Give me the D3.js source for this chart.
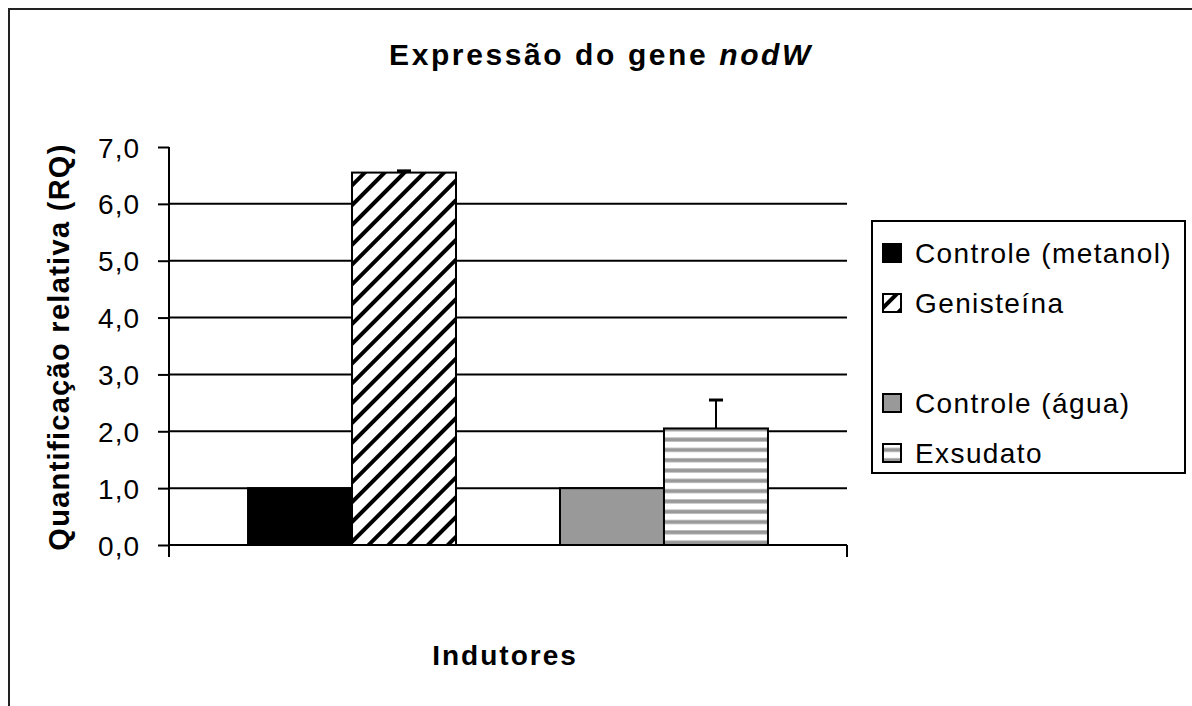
<!DOCTYPE html>
<html>
<head>
<meta charset="utf-8">
<script src="https://cdn.jsdelivr.net/npm/d3@7"></script>
<style>
  body { margin: 0; background: #fff; }
  text { font-family: "Liberation Sans", Arial, sans-serif; fill: #000; }
</style>
</head>
<body>
<svg id="chart" width="1192" height="706"></svg>
<script>
// data
var categories = [""];
var series = ["Controle (metanol)", "Genisteína", " ", "Controle (água)", "Exsudato"];
var values = [1.0, 6.55, null, 1.0, 2.05];
var errors = [0, 0.03, null, 0, 0.5];
var yTicks = [0, 1, 2, 3, 4, 5, 6, 7];
var fills = ["#000000", "url(#hatch)", "none", "#999999", "url(#stripes)"];

var svg = d3.select("#chart");

// outer frame (runs off the right and bottom of the window)
svg.append("rect")
  .attr("x", 9).attr("y", 9)
  .attr("width", 1200).attr("height", 720)
  .attr("fill", "none").attr("stroke", "#222").attr("stroke-width", 2);

var defs = svg.append("defs");
var hatch = defs.append("pattern")
  .attr("id", "hatch")
  .attr("patternUnits", "userSpaceOnUse")
  .attr("width", 14).attr("height", 14)
  .attr("patternTransform", "rotate(45)");
hatch.append("rect").attr("width", 14).attr("height", 14).attr("fill", "#fff");
hatch.append("rect").attr("x", 0).attr("width", 4).attr("height", 14).attr("fill", "#000");

var stripes = defs.append("pattern")
  .attr("id", "stripes")
  .attr("patternUnits", "userSpaceOnUse")
  .attr("width", 10).attr("height", 10.3);
stripes.append("rect").attr("width", 10).attr("height", 10.3).attr("fill", "#fff");
stripes.append("rect").attr("y", 5).attr("width", 10).attr("height", 4).attr("fill", "#999");

var plotL = 169, plotR = 847, plotT = 147, plotB = 545;

var y = d3.scaleLinear().domain([0, 7]).range([plotB, plotT]);
var x0 = d3.scaleBand().domain(categories).range([plotL, plotR]);
var x1 = d3.scaleBand().domain(series).range([0, x0.bandwidth()])
  .paddingInner(0).paddingOuter(0.76);

// gridlines
svg.append("g").selectAll("line")
  .data(yTicks.filter(function(d) { return d > 0 && d < 7; }))
  .enter().append("line")
  .attr("x1", plotL).attr("x2", plotR)
  .attr("y1", function(d) { return y(d); })
  .attr("y2", function(d) { return y(d); })
  .attr("stroke", "#000").attr("stroke-width", 2);

// bars
var bars = svg.append("g");
series.forEach(function(s, i) {
  if (values[i] == null) return;
  var bx = x0(categories[0]) + x1(s);
  bars.append("rect")
    .attr("x", bx).attr("y", y(values[i]))
    .attr("width", x1.bandwidth())
    .attr("height", y(0) - y(values[i]))
    .attr("fill", fills[i])
    .attr("stroke", "#000").attr("stroke-width", 2);
  if (errors[i] > 0) {
    var cx = bx + x1.bandwidth() / 2;
    bars.append("line")
      .attr("x1", cx).attr("x2", cx)
      .attr("y1", y(values[i])).attr("y2", y(values[i] + errors[i]))
      .attr("stroke", "#000").attr("stroke-width", 2);
    bars.append("line")
      .attr("x1", cx - 7).attr("x2", cx + 7)
      .attr("y1", y(values[i] + errors[i])).attr("y2", y(values[i] + errors[i]))
      .attr("stroke", "#000").attr("stroke-width", 3);
  }
});

// y axis
var yAxis = d3.axisLeft(y).tickValues(yTicks).tickSize(11).tickPadding(18)
  .tickFormat(function(d) { return d3.format(".1f")(d).replace(".", ","); });
var gy = svg.append("g").attr("transform", "translate(" + plotL + ",0)").call(yAxis);
gy.select(".domain").remove();
gy.selectAll(".tick line").attr("stroke", "#000").attr("stroke-width", 2);
gy.selectAll(".tick text")
  .attr("font-size", 28)
  .attr("font-family", "Liberation Sans, Arial, sans-serif")
  .attr("letter-spacing", 1)
  .attr("fill", "#000").attr("dy", "0.36em");

svg.append("line")
  .attr("x1", plotL).attr("x2", plotL).attr("y1", plotT).attr("y2", plotB + 12)
  .attr("stroke", "#000").attr("stroke-width", 2);
svg.append("line")
  .attr("x1", plotL).attr("x2", plotR).attr("y1", plotB).attr("y2", plotB)
  .attr("stroke", "#000").attr("stroke-width", 2);
svg.append("line")
  .attr("x1", plotR).attr("x2", plotR).attr("y1", plotB).attr("y2", plotB + 12)
  .attr("stroke", "#000").attr("stroke-width", 2);

// titles
var title = svg.append("text")
  .attr("x", 601).attr("y", 65)
  .attr("text-anchor", "middle")
  .attr("font-size", 30).attr("font-weight", "bold")
  .attr("letter-spacing", 2.6);
title.append("tspan").text("Expressão do gene ");
title.append("tspan").attr("font-style", "italic").text("nodW");

svg.append("text")
  .attr("x", 505).attr("y", 665)
  .attr("text-anchor", "middle")
  .attr("font-size", 28).attr("font-weight", "bold")
  .attr("letter-spacing", 2)
  .text("Indutores");

svg.append("text")
  .attr("transform", "translate(69,347) rotate(-90)")
  .attr("text-anchor", "middle")
  .attr("font-size", 29).attr("font-weight", "bold")
  .attr("letter-spacing", 1.3)
  .text("Quantificação relativa (RQ)");

// legend
var legend = svg.append("g");
legend.append("rect")
  .attr("x", 872).attr("y", 221).attr("width", 313).attr("height", 252)
  .attr("fill", "#fff").attr("stroke", "#000").attr("stroke-width", 2);
series.forEach(function(s, i) {
  var ly = 253 + i * 50;
  if (values[i] != null) {
    legend.append("rect")
      .attr("x", 883).attr("y", ly - 9).attr("width", 18).attr("height", 18)
      .attr("fill", fills[i]).attr("stroke", "#000").attr("stroke-width", 2);
  }
  legend.append("text")
    .attr("x", 915).attr("y", ly + 10)
    .attr("font-size", 28)
    .attr("letter-spacing", 1.4)
    .text(s);
});
</script>
</body>
</html>
